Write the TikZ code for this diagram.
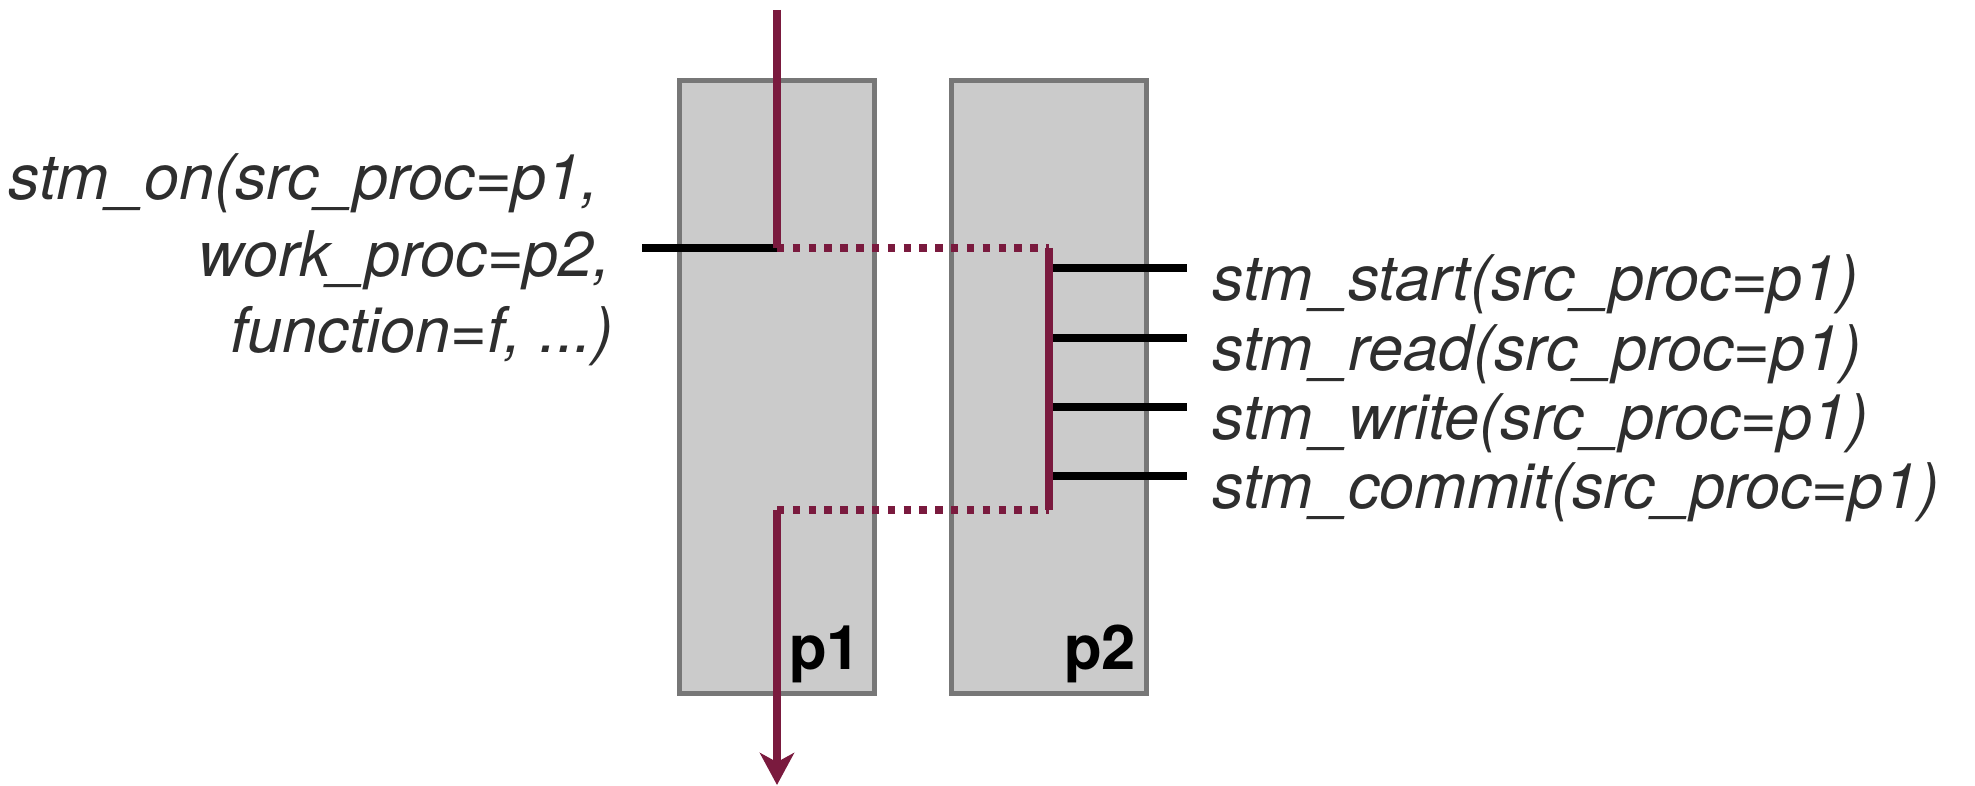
\documentclass[tikz,border=0pt]{standalone}
\usepackage{fontspec}
\setmainfont{TeX Gyre Heros}
\usetikzlibrary{arrows.meta}
\definecolor{wine}{RGB}{122,26,62}
\definecolor{boxgray}{RGB}{203,203,203}
\definecolor{edgegray}{RGB}{119,119,119}
\definecolor{inkgray}{RGB}{46,46,46}

\begin{document}
\begin{tikzpicture}[x=0.01cm, y=-0.01cm,
  proc/.style={draw=edgegray, fill=boxgray, line width=1.42pt,
               minimum width=1.94cm, minimum height=6.12cm, inner sep=0},
  tag/.style={font=\fontsize{17.5}{19}\selectfont\bfseries, inner sep=0},
  lbl/.style={font=\fontsize{17.9}{21}\selectfont\itshape, text=inkgray, inner sep=0},
  wire/.style={wine, line width=2.1pt},
  hop/.style={wine, line width=2.1pt, dash pattern=on 2.1pt off 2.4pt},
  stub/.style={black, line width=2.2pt}
]
\useasboundingbox (0,0) rectangle (1975,786);

%% -- Process boxes -----------------------------------------------------------
\node[proc] (p1) at (777,387) {};
\node[proc] (p2) at (1049,387) {};
\node[tag, anchor=base east] (p1tag) at ([xshift=-0.15cm, yshift=0.26cm]p1.south east) {p1};
\node[tag, anchor=base east] (p2tag) at ([xshift=-0.12cm, yshift=0.26cm]p2.south east) {p2};

%% -- Call on p1 ----------------------------------------------------------------
\node[lbl, anchor=base east] (call1) at (600,200) {stm\_on(src\_proc=p1,};
\node[lbl, anchor=base east] (call2) at (612,277) {work\_proc=p2,};
\node[lbl, anchor=base east] (call3) at (614,353) {function=f, ...)};

\coordinate (entry)   at (777,10);
\coordinate (fork)    at (777,248);
\coordinate (join)    at (777,510);
\coordinate (exit)    at (777,785);
\coordinate (wtop)    at (1049,248);
\coordinate (wbot)    at (1049,510);
\coordinate (callend) at (642,248);

\draw[stub] (callend) -- (fork);

%% -- Calls served by p2 --------------------------------------------------------
\foreach \name/\y in {start/268, read/338, write/407, commit/476} {
  \draw[stub] (wtop |- 0,\y) -- ++(138,0);
  \node[lbl, anchor=base west] (\name) at (1212,\y+33) {stm\_\name(src\_proc=p1)};
}

%% -- Control flow ---------------------------------------------------------------
\draw[wire] (entry) -- (fork);
\draw[hop] (fork) -- (wtop);
\draw[wire] (wtop) -- (wbot);
\draw[hop] (join) -- (wbot);
\draw[wire, -{Stealth[length=9.1pt, width=9.7pt, inset=2.6pt]}] (join) -- (exit);

\end{tikzpicture}
\end{document}
